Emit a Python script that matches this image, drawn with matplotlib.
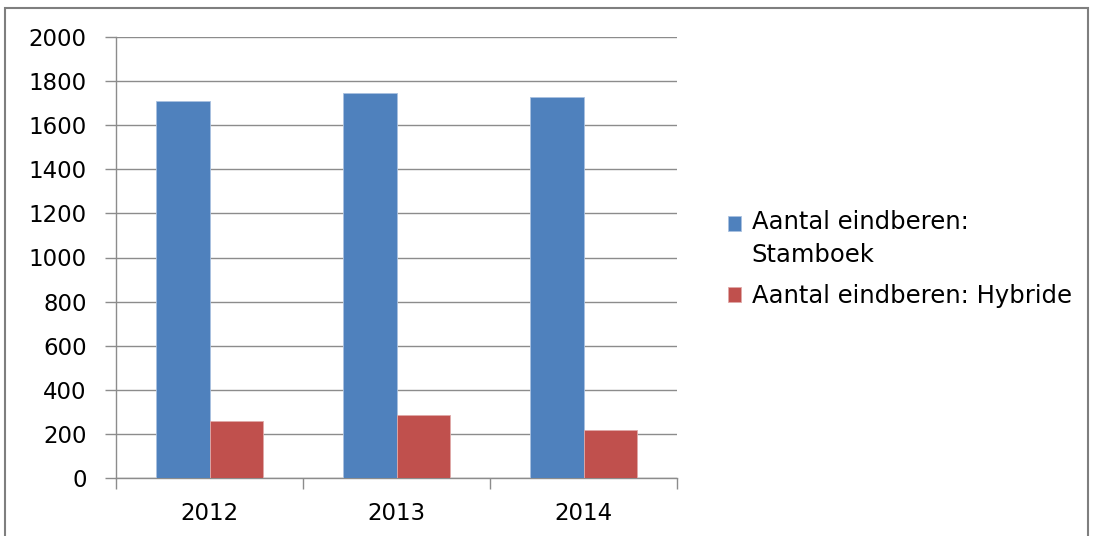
import numpy as np
import matplotlib
matplotlib.use("Agg")
import matplotlib.pyplot as plt
from matplotlib.patches import Rectangle

# ── Data ───────────────────────────────────────
years = ["2012", "2013", "2014"]
stamboek = [1709, 1746, 1726]
hybride = [258, 286, 217]
series_labels = ["Aantal eindberen:\nStamboek", "Aantal eindberen: Hybride"]
y_ticks = list(range(0, 2001, 200))

blue = "#4F81BD"
red = "#C0504D"
grid_col = "#8C8C8C"

plt.rcParams["font.family"] = ["DejaVu Sans"]

fig = plt.figure(figsize=(10.93, 5.36), dpi=100)
ax = fig.add_axes([116 / 1093, 1 - 478 / 536, (677 - 116) / 1093, (478 - 37) / 536])

# outer chart frame
fig.patches.append(Rectangle((5 / 1093, -0.05), (1088 - 5) / 1093, 1.05 - 8 / 536,
                             transform=fig.transFigure, fill=False,
                             edgecolor="#7F7F7F", linewidth=1.5))

x = np.arange(len(years))
w = 1 / 3.5
b1 = ax.bar(x - w / 2, stamboek, w, color=blue, edgecolor="#A9C1E0", linewidth=0.6,
            label=series_labels[0], zorder=3)
b2 = ax.bar(x + w / 2, hybride, w, color=red, edgecolor="#E0A9A8", linewidth=0.6,
            label=series_labels[1], zorder=3)

ax.set_xlim(-0.5, len(years) - 0.5)
ax.set_ylim(0, 2000)
ax.set_yticks(y_ticks)
ax.yaxis.grid(True, color=grid_col, linewidth=1.0, zorder=0)
ax.set_axisbelow(True)

# x ticks at category boundaries, labels centred
ax.set_xticks(np.arange(len(years) + 1) - 0.5)
ax.set_xticklabels([])
ax.set_xticks(x, minor=True)
ax.set_xticklabels(years, minor=True)
ax.tick_params(axis="x", which="major", length=8, color=grid_col, width=1.0, direction="out")
ax.tick_params(axis="x", which="minor", length=0, pad=17, labelsize=16.5)
ax.tick_params(axis="y", length=8, color=grid_col, width=1.0, pad=13, labelsize=16.5)

for s in ["top", "right"]:
    ax.spines[s].set_visible(False)
for s in ["left", "bottom"]:
    ax.spines[s].set_color(grid_col)
    ax.spines[s].set_linewidth(1.0)

leg = fig.legend(handles=[b1, b2], loc="center left", bbox_to_anchor=(706 / 1093, 1 - 259 / 536),
                 frameon=False, fontsize=17.5, handlelength=0.56, handleheight=0.56,
                 handletextpad=0.42, labelspacing=0.72)
for t in leg.get_texts():
    t.set_linespacing(1.45)
# Excel puts the marker next to the first line of a wrapped label
h0 = leg.legend_handles[0]
h0.set_y(h0.get_y() + 11.5)

plt.savefig("out.png", dpi=100)
